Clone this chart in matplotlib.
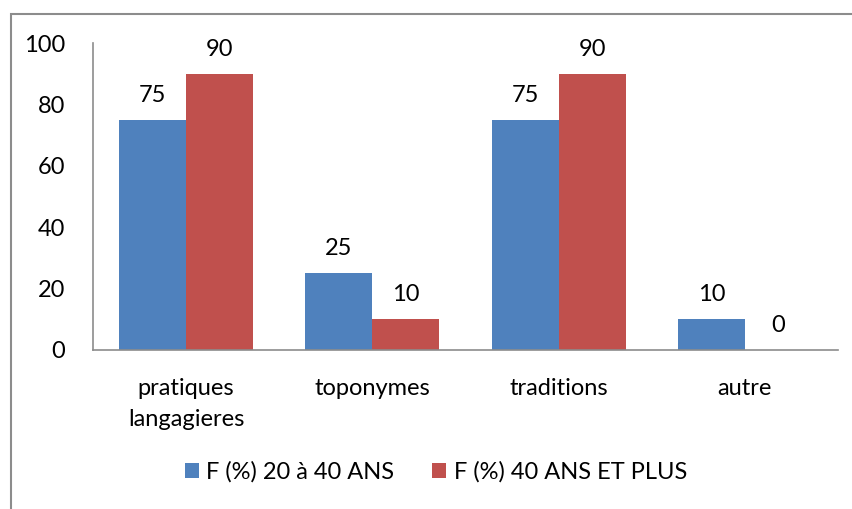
import matplotlib.pyplot as plt
import numpy as np
from matplotlib.patches import Rectangle

categories = ['pratiques\nlangagieres', 'toponymes', 'traditions', 'autre']
jeunes = [75, 25, 75, 10]      # F (%) 20 a 40 ANS
anciens = [90, 10, 90, 0]      # F (%) 40 ANS ET PLUS
yticks = [0, 20, 40, 60, 80, 100]

plt.rcParams['font.family'] = ['Lato', 'DejaVu Sans']

W, H = 853, 509
fig = plt.figure(figsize=(W / 100, H / 100), dpi=100)

# outer chart border (cut off at right and bottom like the screenshot)
fig.patches.append(Rectangle((11 / W, -0.1), 1.2, 1 - 14 / H + 0.1,
                             transform=fig.transFigure, fill=False,
                             edgecolor='#8c8c8c', linewidth=1.5))

ax = fig.add_axes([93 / W, 1 - 350 / H, (838 - 93) / W, (350 - 43) / H])

x = np.arange(len(categories))
bw = 0.36
b1 = ax.bar(x - bw / 2, jeunes, bw, color='#4f81bd', label='F (%) 20 à 40 ANS')
b2 = ax.bar(x + bw / 2, anciens, bw, color='#c0504d', label='F (%) 40 ANS ET PLUS')

fs = 17
for bars in (b1, b2):
    for r in bars:
        ax.text(r.get_x() + r.get_width() / 2, r.get_height() + 4.5, '%d' % r.get_height(),
                ha='center', va='bottom', fontsize=fs, color='black')

ax.set_xlim(-0.5, len(categories) - 0.5)
ax.set_ylim(0, 100)
ax.set_yticks(yticks)
ax.set_xticks(x)
ax.set_xticklabels(categories, fontsize=fs)
for t in ax.get_xticklabels():
    t.set_linespacing(1.6)
ax.tick_params(axis='y', length=0, labelsize=fs, pad=20)
ax.tick_params(axis='x', length=0, pad=20)

for s in ['top', 'right']:
    ax.spines[s].set_visible(False)
for s in ['left', 'bottom']:
    ax.spines[s].set_color('#8c8c8c')
    ax.spines[s].set_linewidth(1.2)

fig.legend(handles=[b1, b2], loc='center', bbox_to_anchor=(436 / W, 1 - 472 / H),
           ncol=2, frameon=False, fontsize=fs, handlelength=0.6, handleheight=0.6,
           handletextpad=0.3, columnspacing=1.6)

plt.savefig('out.png', dpi=100)
